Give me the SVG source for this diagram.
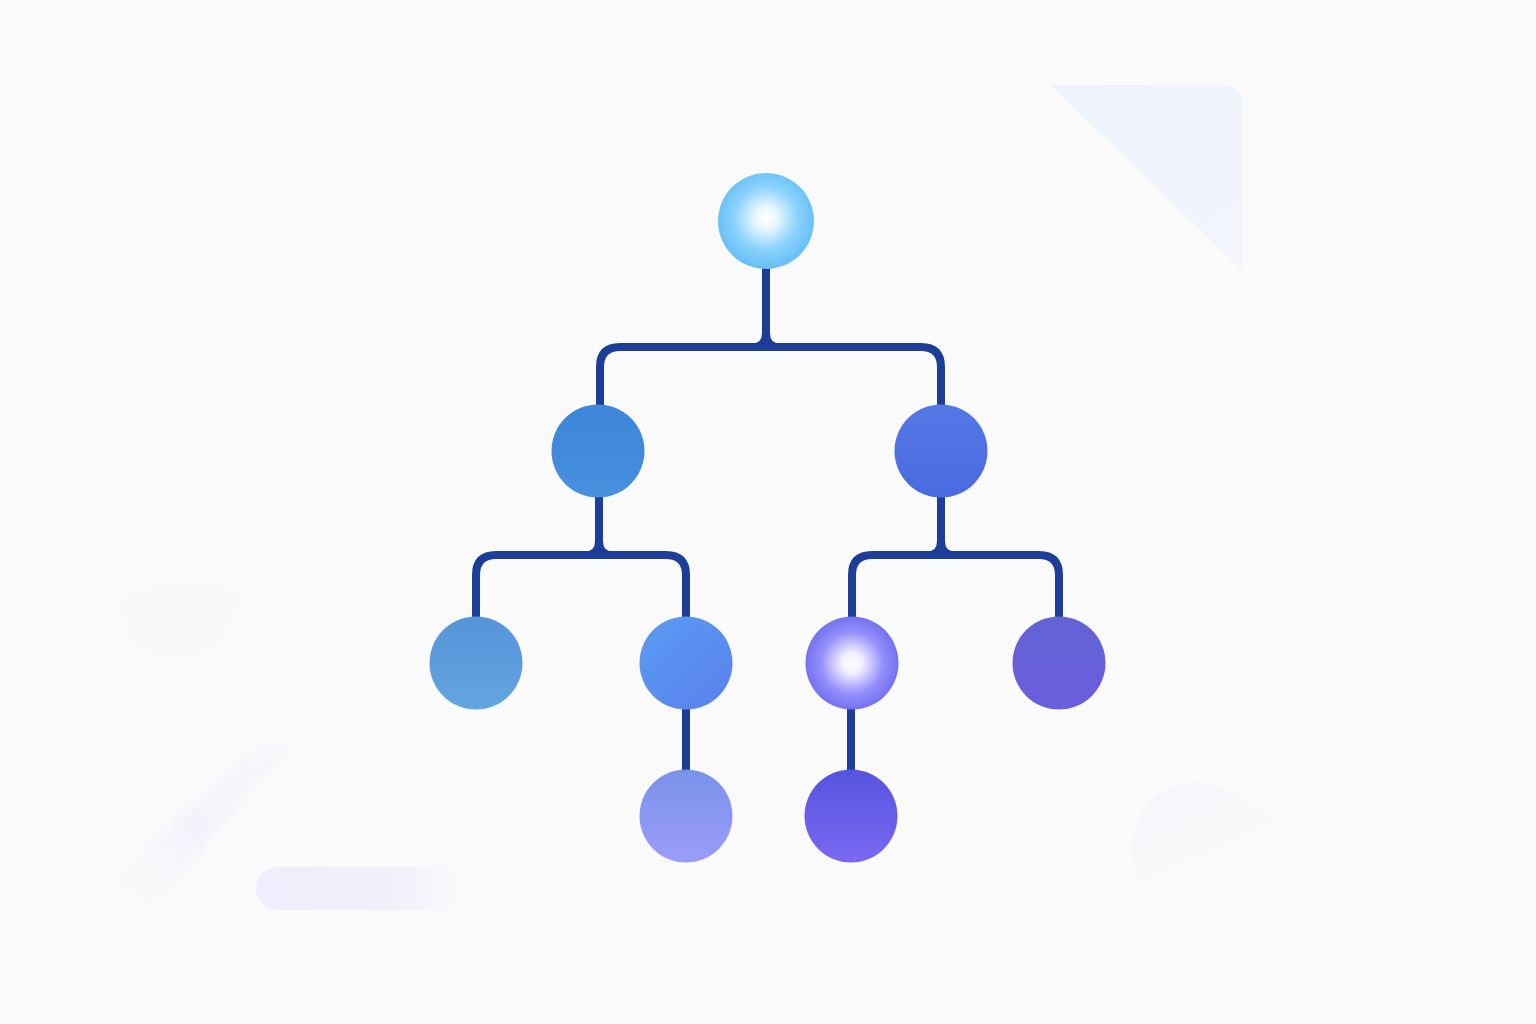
<svg xmlns="http://www.w3.org/2000/svg" width="1536" height="1024" viewBox="0 0 1536 1024">
<defs>
<style>
.link{fill:none;stroke:#1c3d98;stroke-width:8;stroke-linecap:butt;stroke-linejoin:round}
.fillet{fill:#1c3d98}
</style>
<radialGradient id="gRoot" cx="0.5" cy="0.47" r="0.55">
<stop offset="0" stop-color="#ffffff"/>
<stop offset="0.18" stop-color="#eef9ff"/>
<stop offset="0.6" stop-color="#8ad2fc"/>
<stop offset="1" stop-color="#62bbf6"/>
</radialGradient>
<radialGradient id="gGlow" cx="0.5" cy="0.5" r="0.55">
<stop offset="0" stop-color="#ffffff"/>
<stop offset="0.2" stop-color="#f3eeff"/>
<stop offset="0.6" stop-color="#9590fb"/>
<stop offset="1" stop-color="#6a68ee"/>
</radialGradient>
<linearGradient id="gL2a" x1="0" y1="0" x2="0" y2="1">
<stop offset="0" stop-color="#3d86da"/><stop offset="1" stop-color="#4790dc"/>
</linearGradient>
<linearGradient id="gL2b" x1="0" y1="0" x2="0" y2="1">
<stop offset="0" stop-color="#5478e6"/><stop offset="1" stop-color="#4a6ae0"/>
</linearGradient>
<linearGradient id="gL3a" x1="0" y1="0" x2="0" y2="1">
<stop offset="0" stop-color="#5494d8"/><stop offset="1" stop-color="#64a4e0"/>
</linearGradient>
<linearGradient id="gL3b" x1="0" y1="0" x2="1" y2="1">
<stop offset="0" stop-color="#5a9cf4"/><stop offset="1" stop-color="#5a80ec"/>
</linearGradient>
<linearGradient id="gL3d" x1="0" y1="0" x2="0" y2="1">
<stop offset="0" stop-color="#6362d6"/><stop offset="1" stop-color="#6a5edc"/>
</linearGradient>
<linearGradient id="gL4a" x1="0" y1="0" x2="0" y2="1">
<stop offset="0" stop-color="#7a92ea"/><stop offset="1" stop-color="#9b9cfa"/>
</linearGradient>
<linearGradient id="gL4b" x1="0" y1="0" x2="0" y2="1">
<stop offset="0" stop-color="#5654e0"/><stop offset="1" stop-color="#7a68f2"/>
</linearGradient>
<linearGradient id="gTri" x1="0" y1="0" x2="1" y2="1">
<stop offset="0" stop-color="#eef3fc"/><stop offset="1" stop-color="#f3f5fd"/>
</linearGradient>
<linearGradient id="gPill" x1="0" y1="0" x2="1" y2="0">
<stop offset="0" stop-color="#eeeefc"/><stop offset="0.7" stop-color="#f1f1fc"/><stop offset="1" stop-color="#fafafd" stop-opacity="0"/>
</linearGradient>
<linearGradient id="gBand" x1="0" y1="1" x2="1" y2="0">
<stop offset="0" stop-color="#fafafc" stop-opacity="0"/><stop offset="0.5" stop-color="#f3f4fb"/><stop offset="1" stop-color="#f6f6fb"/>
</linearGradient>
<linearGradient id="gBlob" x1="0" y1="0" x2="0.6" y2="1">
<stop offset="0" stop-color="#f3f3fb"/><stop offset="1" stop-color="#fafafc" stop-opacity="0"/>
</linearGradient>
<filter id="soft" x="-30%" y="-30%" width="160%" height="160%"><feGaussianBlur stdDeviation="3"/></filter>
</defs>
<rect width="1536" height="1024" fill="#fafafa"/>
<g id="background">
<path d="M1050 85 L1222 85 Q1242 85 1242 105 L1242 270 Z" fill="url(#gTri)"/>
<rect x="256" y="867" width="220" height="43" rx="21.5" fill="url(#gPill)"/>
<path d="M90 900 L230 770 Q260 740 290 745 L160 900 Q120 940 90 900 Z" fill="url(#gBand)" filter="url(#soft)"/>
<path d="M120 600 Q180 570 245 595 L220 640 Q180 675 130 640 Z" fill="#f6f7fa" opacity="0.6" filter="url(#soft)"/>
<path d="M1132 860 Q1130 790 1195 782 Q1230 780 1290 835 L1290 900 L1140 900 Z" fill="url(#gBlob)"/>
</g>
<g id="connectors">
<path class="link" d="M600 406 V367 Q600 347 620 347 H921 Q941 347 941 367 V406"/>
<path class="link" d="M766 268 V347"/>
<path class="fillet" d="M752 343.5 Q762 343.5 762 333 L770 333 Q770 343.5 780 343.5 Z"/>
<path class="link" d="M476 618 V575 Q476 555 496 555 H666 Q686 555 686 575 V618"/>
<path class="link" d="M599 496 V555"/>
<path class="fillet" d="M585 551.5 Q595 551.5 595 541 L603 541 Q603 551.5 613 551.5 Z"/>
<path class="link" d="M852 618 V575 Q852 555 872 555 H1039 Q1059 555 1059 575 V618"/>
<path class="link" d="M941 496 V555"/>
<path class="fillet" d="M927 551.5 Q937 551.5 937 541 L945 541 Q945 551.5 955 551.5 Z"/>
<path class="link" d="M686 708 V772"/>
<path class="link" d="M851 708 V772"/>
</g>
<g id="node-root"><circle cx="766" cy="221" r="48" fill="url(#gRoot)"/></g>
<g id="node-2a"><circle cx="598" cy="451" r="46.5" fill="url(#gL2a)"/></g>
<g id="node-2b"><circle cx="941" cy="451" r="46.5" fill="url(#gL2b)"/></g>
<g id="node-3a"><circle cx="476" cy="663" r="46.5" fill="url(#gL3a)"/></g>
<g id="node-3b"><circle cx="686" cy="663" r="46.5" fill="url(#gL3b)"/></g>
<g id="node-3c"><circle cx="852" cy="663" r="46.5" fill="url(#gGlow)"/></g>
<g id="node-3d"><circle cx="1059" cy="663" r="46.5" fill="url(#gL3d)"/></g>
<g id="node-4a"><circle cx="686" cy="816" r="46.5" fill="url(#gL4a)"/></g>
<g id="node-4b"><circle cx="851" cy="816" r="46.5" fill="url(#gL4b)"/></g>
</svg>
